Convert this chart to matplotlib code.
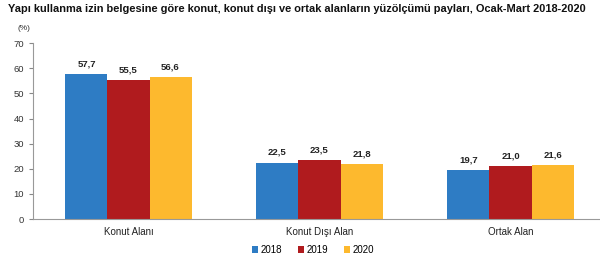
import matplotlib
matplotlib.use("Agg")
import matplotlib.pyplot as plt
import numpy as np

categories = ["Konut Alanı", "Konut Dışı Alan", "Ortak Alan"]
years = ["2018", "2019", "2020"]
v2018 = [57.7, 22.5, 19.7]
v2019 = [55.5, 23.5, 21.0]
v2020 = [56.6, 21.8, 21.6]
colors = ["#2E7CC4", "#B01B1E", "#FDB92E"]

plt.rcParams['font.family'] = ['Liberation Sans', 'DejaVu Sans']
fig = plt.figure(figsize=(6, 2.63), dpi=100)
ax = fig.add_axes([0.055, 0.167, 0.955, 0.669])

x = np.arange(len(categories))
w = 0.22
for i, (vals, yr, c) in enumerate(zip([v2018, v2019, v2020], years, colors)):
    pos = x + (i - 1) * w
    bars = ax.bar(pos, vals, width=w, color=c, label=yr)
    for p, v in zip(pos, vals):
        ax.text(p, v + 2.2, f"{v:.1f}".replace(".", ","), ha="center", va="bottom",
                fontsize=6.8, fontweight="bold", color="#222222")

ax.set_xlim(-0.5, 2.5)
ax.set_ylim(0, 70)
ax.set_yticks(range(0, 71, 10))
ax.set_xticks(x)
ax.set_xticklabels(categories)
ax.tick_params(axis="y", labelsize=6.8, colors="#333333", length=3, color="#888888", width=0.8)
ax.tick_params(axis="x", labelsize=7, colors="#222222", length=0, pad=6)
for s in ["top", "right"]:
    ax.spines[s].set_visible(False)
for s in ["left", "bottom"]:
    ax.spines[s].set_color("#999999")
    ax.spines[s].set_linewidth(0.8)

fig.text(0.013, 0.965, "Yapı kullanma izin belgesine göre konut, konut dışı ve ortak alanların yüzölçümü payları, Ocak-Mart 2018-2020",
         fontsize=7.95, fontweight="bold", ha="left", va="center", color="#111111")
fig.text(0.03, 0.89, "(%)", fontsize=6, ha="left", va="center", color="#333333")

leg = fig.legend(loc="center", bbox_to_anchor=(0.522, 0.05), ncol=3, frameon=False,
                 fontsize=7, handlelength=0.6, handleheight=0.6, handletextpad=0.3, columnspacing=1.6)

fig.savefig("out.png", dpi=100)
